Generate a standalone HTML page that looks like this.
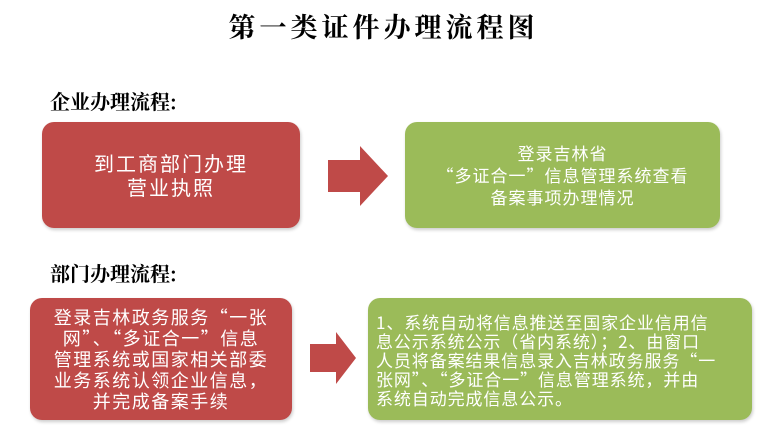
<!DOCTYPE html>
<html><head><meta charset="utf-8"><style>
body{margin:0;width:767px;height:437px;background:#fff;position:relative;overflow:hidden;font-family:"Noto Sans CJK SC",sans-serif}
.t{position:absolute;white-space:nowrap}
.box{position:absolute;border-radius:12px;color:#fff;display:flex;align-items:center;justify-content:center;text-align:center;box-shadow:1px 2px 3px rgba(0,0,0,.2)}
.r{background:#bf4a48}
.g{background:#9bbb59}
</style></head><body>
<div class="t" style="left:0;width:767px;text-align:center;top:6px;font-size:27px;font-weight:bold;font-family:'Noto Serif CJK SC',serif;letter-spacing:4px">第一类证件办理流程图</div>
<div class="t" style="left:50px;top:86px;font-size:20px;font-family:'Noto Serif CJK SC',serif;font-weight:bold">企业办理流程:</div>
<div class="box r" style="left:42px;top:122px;width:258px;height:106px;font-size:20px;line-height:24px;letter-spacing:2px">到工商部门办理<br>营业执照</div>
<svg class="t" style="left:326px;top:144px" width="64" height="64"><polygon points="2,16 34,16 34,2 62,32 34,62 34,48 2,48" fill="#bf4a48"/></svg>
<div class="box g" style="left:405px;top:122px;width:315px;height:106px;font-size:17px;line-height:22px;letter-spacing:1px">登录吉林省<br>“多证合一”信息管理系统查看<br>备案事项办理情况</div>
<div class="t" style="left:50px;top:258px;font-size:20px;font-family:'Noto Serif CJK SC',serif;font-weight:bold">部门办理流程:</div>
<div class="box r" style="left:30px;top:298px;width:262px;height:122px;font-size:18px;line-height:21px;letter-spacing:1.5px">登录吉林政务服务“一张<br>网”、“多证合一”信息<br>管理系统或国家相关部委<br>业务系统认领企业信息，<br>并完成备案手续</div>
<svg class="t" style="left:308px;top:330px" width="50" height="56"><polygon points="2,14 28,14 28,2 48,28 28,54 28,42 2,42" fill="#bf4a48"/></svg>
<div class="box g" style="left:368px;top:298px;width:384px;height:122px;font-size:17px;line-height:19px;letter-spacing:0.9px;text-align:left;justify-content:flex-start;padding:0 8px;box-sizing:border-box;white-space:nowrap">1、系统自动将信息推送至国家企业信用信<br>息公示系统公示（省内系统）；2、由窗口<br>人员将备案结果信息录入吉林政务服务“一<br>张网”、“多证合一”信息管理系统，并由<br>系统自动完成信息公示。</div>
</body></html>
